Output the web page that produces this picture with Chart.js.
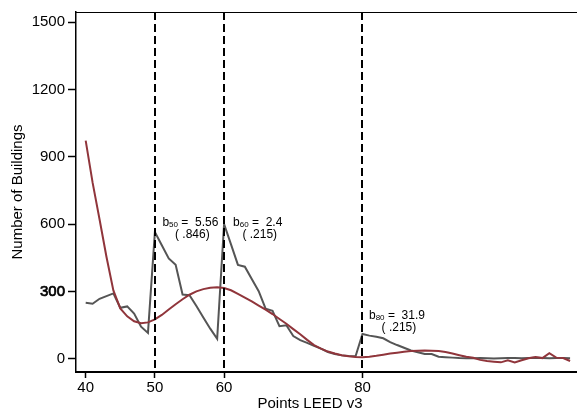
<!DOCTYPE html>
<html>
<head>
<meta charset="utf-8">
<title>Buildings by LEED v3 points</title>
<script src="https://cdn.jsdelivr.net/npm/chart.js@4.4.1/dist/chart.umd.min.js"></script>
<style>
  html, body { margin: 0; padding: 0; background: #fff; }
</style>
</head>
<body>
<canvas id="rd-chart" width="577" height="417"></canvas>
<script>
// points scored under LEED v3
const points = [40, 41, 42, 43, 44, 45, 46, 47, 48, 49,
                50, 51, 52, 53, 54, 55, 56, 57, 58, 59,
                60, 61, 62, 63, 64, 65, 66, 67, 68, 69,
                70, 71, 72, 73, 74, 75, 76, 77, 78, 79,
                80, 81, 82, 83, 84, 85, 86, 87, 88, 89,
                90, 91, 92, 93, 94, 95, 96, 97, 98, 99,
                100, 101, 102, 103, 104, 105, 106, 107, 108, 109, 110];

// observed number of buildings at each score
const observed = [250, 246, 268, 280, 292, 228, 234, 202, 144, 116,
                  565, 506, 448, 419, 287, 284, 236, 185, 135, 90,
                  600, 510, 419, 411, 356, 302, 224, 214, 146, 150,
                  102, 84, 72, 58, 46, 31, 22, 16, 13, 12,
                  111, 104, 99, 92, 75, 62, 50, 38, 30, 22,
                  22, 10, 8, 6, 4, 3, 3, 4, 3, 2,
                  3, 4, 4, 3, 4, 5, 4, 3, 4, 4, 3];

// counterfactual density without the certification thresholds
const fitted = [972, 785, 622, 455, 305, 225, 190, 168, 159, 163,
                176, 196, 220, 244, 266, 286, 301, 311, 317, 319,
                316, 306, 290, 273, 256, 238, 220, 200, 178, 157,
                133, 110, 85, 62, 46, 33, 24, 17, 12, 9,
                8, 10, 14, 19, 24, 28, 32, 35, 37, 38,
                37, 35, 31, 24, 17, 10, 5, -4, -9, -12,
                -15, -6, -15, -6, 3, 9, 4, 26, 6, 4, -9];

// certification thresholds and the estimated bunching at each
const cutoffs = [50, 60, 80];
const cutoffCoef = ['5.56', '2.4', '31.9'];
const cutoffSe = ['.846', '.215', '.215'];

const xTicks = [40, 50, 60, 80];
const yTicks = [0, 300, 600, 900, 1200, 1500];

const FONT = '"Liberation Sans", Arial, Helvetica, sans-serif';

// dashed threshold lines, top frame, coefficient labels, x title
const thresholds = {
  id: 'thresholds',
  afterDatasetsDraw(chart) {
    const { ctx, chartArea, scales: { x, y } } = chart;
    ctx.save();

    ctx.strokeStyle = '#000';
    ctx.lineWidth = 1;
    ctx.beginPath();
    ctx.moveTo(chartArea.left, chartArea.top + 0.5);
    ctx.lineTo(chartArea.right, chartArea.top + 0.5);
    ctx.stroke();

    ctx.lineWidth = 2;
    ctx.setLineDash([8, 4]);
    cutoffs.forEach(c => {
      const px = Math.round(x.getPixelForValue(c));
      ctx.beginPath();
      ctx.moveTo(px, chartArea.top);
      ctx.lineTo(px, chartArea.bottom);
      ctx.stroke();
    });
    ctx.setLineDash([]);

    // label anchors: pixel offset right of the line, value height of first row
    const anchors = [[7.5, 605], [9, 605], [6.5, 192]];
    ctx.fillStyle = '#000';
    ctx.textBaseline = 'middle';
    cutoffs.forEach((c, i) => {
      const left = x.getPixelForValue(c) + anchors[i][0];
      const row = y.getPixelForValue(anchors[i][1]);
      ctx.textAlign = 'left';
      ctx.font = '12px ' + FONT;
      const bW = ctx.measureText('b').width;
      ctx.fillText('b', left, row);
      ctx.font = '8px ' + FONT;
      const sub = String(c);
      const subW = ctx.measureText(sub).width;
      ctx.fillText(sub, left + bW, row + 2);
      ctx.font = '12px ' + FONT;
      const rest = ' =  ' + cutoffCoef[i];
      const restW = ctx.measureText(rest).width;
      ctx.fillText(rest, left + bW + subW, row);
      const mid = left + (bW + subW + restW) / 2;
      ctx.textAlign = 'center';
      ctx.fillText('( ' + cutoffSe[i] + ')', mid + 2, row + 12);
    });

    ctx.font = '15px ' + FONT;
    ctx.textAlign = 'center';
    ctx.fillText('Points LEED v3', 310, 404);
    ctx.restore();
  }
};

new Chart(document.getElementById('rd-chart'), {
  type: 'line',
  data: {
    labels: points,
    datasets: [
      {
        label: 'Fitted',
        data: fitted,
        borderColor: '#90353B',
        borderWidth: 2,
        pointRadius: 0,
        tension: 0,
        fill: false
      },
      {
        label: 'Observed',
        data: observed,
        borderColor: '#555555',
        borderWidth: 2,
        pointRadius: 0,
        tension: 0,
        fill: false
      }
    ]
  },
  options: {
    responsive: false,
    animation: false,
    devicePixelRatio: 1,
    layout: { padding: { top: 7, right: 0, left: 0, bottom: 0 } },
    plugins: {
      legend: { display: false },
      tooltip: { enabled: false }
    },
    scales: {
      x: {
        type: 'linear',
        min: 38.6,
        max: 111,
        afterBuildTicks: s => { s.ticks = xTicks.map(v => ({ value: v })); },
        afterFit: s => { s.height = 45; },
        grid: { drawOnChartArea: false, drawTicks: true, tickLength: 6, tickColor: '#000', tickWidth: 1.5 },
        border: { display: true, color: '#000', width: 2 },
        ticks: { color: '#000', padding: 1, maxRotation: 0, font: { family: FONT, size: 15 }, callback: v => String(v) }
      },
      y: {
        min: -58,
        max: 1545,
        afterBuildTicks: s => { s.ticks = yTicks.map(v => ({ value: v })); },
        afterFit: s => { s.width = 76; },
        grid: { drawOnChartArea: false, drawTicks: true, tickLength: 8, tickColor: '#000', tickWidth: 1.5 },
        border: { display: true, color: '#000', width: 1.5 },
        ticks: {
          color: '#000',
          padding: 3,
          font: { family: FONT, size: 15 },
          callback: v => String(v),
          textStrokeColor: '#000',
          textStrokeWidth: ctx => (ctx.tick && ctx.tick.value === 300 ? 0.7 : 0)
        },
        title: {
          display: true,
          text: 'Number of Buildings',
          color: '#000',
          font: { family: FONT, size: 15 },
          padding: { top: 9, bottom: 0 }
        }
      }
    }
  },
  plugins: [thresholds]
});
</script>
</body>
</html>
